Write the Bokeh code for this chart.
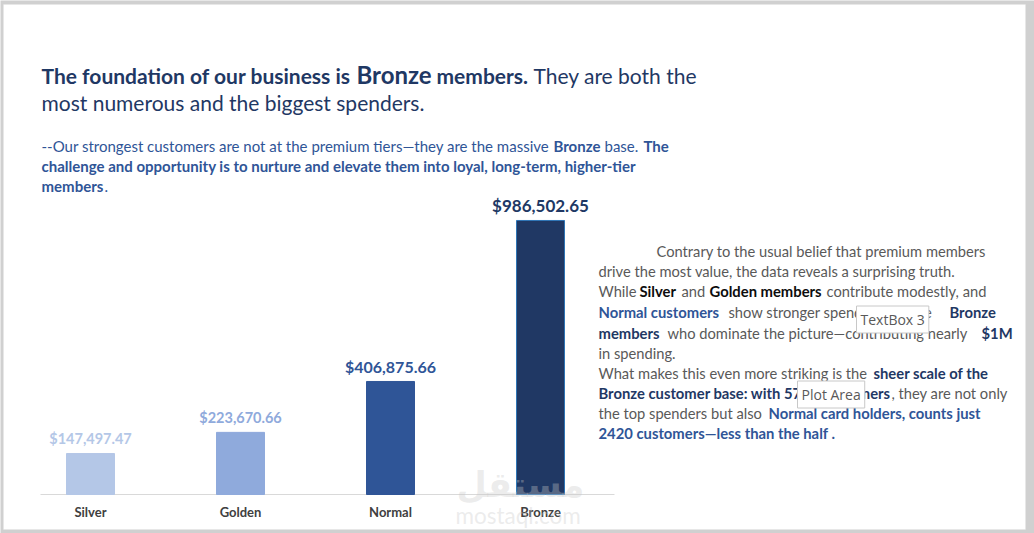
from bokeh.plotting import figure
from bokeh.models import Range1d, Label, ColumnDataSource, BoxAnnotation
from bokeh.embed import file_html
from bokeh.resources import INLINE

# ---------------- data ----------------
categories = ["Silver", "Golden", "Normal", "Bronze"]
spending = [147497.47, 223670.66, 406875.66, 986502.65]
value_labels = ["$147,497.47", "$223,670.66", "$406,875.66", "$986,502.65"]

# ---------------- styles ----------------
bar_colors = ["#b4c7e7", "#8faadc", "#2f5597", "#203864"]
bar_lines = ["#b4c7e7", "#8faadc", "#2f5597", "#2e75b6"]
label_colors = ["#b4c7e7", "#8faadc", "#2f5597", "#203864"]
label_sizes = ["14.5px", "14.5px", "16px", "17px"]

FONT = "Lato"
NAVY = "#1f3864"
BLUE = "#2f5597"
GRAY = "#595959"

W, H = 1034, 533
PX_X = 150.0          # pixels per category step
X0_PX = 90.0          # pixel position of first category centre
PX_Y = 3600.0         # dollars per pixel
BASE_PX = 494.0       # pixel row of the zero line

p = figure(width=W, height=H,
           x_range=Range1d(-X0_PX / PX_X, (W - X0_PX) / PX_X),
           y_range=Range1d(-(H - BASE_PX) * PX_Y, BASE_PX * PX_Y),
           output_backend="svg", toolbar_location=None,
           x_axis_location=None, y_axis_location=None, min_border=0)
p.title.visible = False
p.outline_line_color = None
p.grid.visible = False
p.background_fill_color = "#d0d0d0"
p.border_fill_color = "white"


def to_data(ix, iy):
    return (ix - X0_PX) / PX_X, (BASE_PX - iy) * PX_Y


# white slide area inside the grey frame
l, t = to_data(3, 4)
r, b = to_data(1025, 529)
p.add_layout(BoxAnnotation(left=l, right=r, top=t, bottom=b, fill_color="white", fill_alpha=1,
                           line_color="#e4e4e4", line_width=1, level="underlay"))

idx = list(range(len(categories)))
lab_gap = 15 * PX_Y
src = ColumnDataSource(dict(x=idx, top=spending, fill=bar_colors, line=bar_lines,
                            ly=[v + lab_gap for v in spending],
                            lab=value_labels, lc=label_colors, ls=label_sizes,
                            cat=categories, cy=[-17.5 * PX_Y] * len(idx)))

# baseline (category axis line)
p.segment(x0=-1 / 3, y0=0, x1=len(categories) - 1 + 0.4933, y1=0, line_color="#d9d9d9", line_width=1)

p.vbar(x="x", top="top", bottom=0, width=0.32, fill_color="fill", line_color="line",
       line_width=1, source=src)
p.text(x="x", y="ly", text="lab", text_color="lc", text_font_size="ls", text_font_style="bold",
       text_font={"value": FONT}, text_align="center", text_baseline="middle", source=src)
# category labels
p.text(x="x", y="cy", text="cat", text_color="#404040", text_font_size="13px",
       text_font_style="bold", text_font={"value": FONT}, text_align="center",
       text_baseline="middle", source=src)


def seg(text, ix, iy, size, color, bold=False, font=FONT, **kw):
    xd, yd = to_data(ix, iy)
    lab = Label(x=xd, y=yd, text=text, text_font=font, text_font_size=f"{size}px",
                text_font_style="bold" if bold else "normal", text_color=color,
                text_baseline="middle", text_align="left", **kw)
    p.add_layout(lab)
    return lab


# ---- watermark ----
seg("\u0645\u0633\u062a\u0642\u0644", 456, 484, 35, "#c8c8c8", True, font="DejaVu Sans", text_alpha=0.35)
seg("mostaql.com", 455, 515, 22.5, "#c8c8c8", font="Lato", text_alpha=0.35)

# ---- headline ----
TB, TR = 21, 21
seg("The foundation of our business is", 41, 74.5, TB, NAVY, True)
seg("Bronze", 356, 73.5, 24, NAVY, True)
seg("members.", 436, 74.5, TB, NAVY, True)
seg("They are both the", 533, 74.5, TR, NAVY)
seg("most numerous and the biggest spenders.", 41, 101.5, TR, NAVY)

# ---- sub headline ----
S = 15
seg("--Our strongest customers are not at the premium tiers\u2014they are the massive", 41, 145.5, S, BLUE)
seg("Bronze", 553, 145.5, S, BLUE, True)
seg("base.", 604, 145.5, S, BLUE)
seg("The", 643, 145.5, S, BLUE, True)
seg("challenge and opportunity is to nurture and elevate them into loyal, long-term, higher-tier", 41, 165.5, S, BLUE, True)
seg("members", 41, 185.5, S, BLUE, True)
seg(".", 104, 185.5, S, BLUE)

# ---- right text block ----
R, RB = 14.7, 14.8
BLACK = "#0d0d0d"
seg("Contrary to the usual belief that premium members", 656, 250.5, R, GRAY)
seg("drive the most value, the data reveals a surprising truth.", 598, 270.5, R, GRAY)
seg("While", 598, 290.5, R, GRAY)
seg("Silver", 639, 290.5, RB, BLACK, True)
seg("and", 681, 290.5, R, GRAY)
seg("Golden members", 709, 290.5, RB, BLACK, True)
seg("contribute modestly, and", 826, 290.5, R, GRAY)
seg("Normal customers", 598, 311.5, RB, BLUE, True)
seg("show stronger spending, it\u2019s the", 728, 311.5, R, GRAY)
seg("Bronze", 949, 311.5, RB, NAVY, True)
seg("members", 598, 332.5, RB, NAVY, True)
seg("who dominate the picture\u2014contributing nearly", 667, 332.5, R, GRAY)
seg("$1M", 981, 332.5, RB, NAVY, True)
seg("in spending.", 598, 352.5, R, GRAY)
seg("What makes this even more striking is the", 598, 372.5, R, GRAY)
seg("sheer scale of the", 873, 372.5, RB, NAVY, True)
seg("Bronze customer base: with 5700 customers", 598, 392.5, RB, NAVY, True)
seg(", they are not only", 891, 392.5, R, GRAY)
seg("the top spenders but also", 598, 412.5, R, GRAY)
seg("Normal card holders, counts just", 768, 412.5, RB, BLUE, True)
seg("2420 customers\u2014less than the half .", 598, 432.5, RB, BLUE, True)

# ---- hover tooltips captured in the screenshot ----
for txt, ix, iy in [("TextBox 3", 856, 319), ("Plot Area", 797, 394)]:
    seg(txt, ix, iy, 14, GRAY, font="Open Sans", background_fill_color="white",
        border_line_color="#c8c8c8", padding=4)

open("out.html", "w").write(file_html(p, INLINE))
